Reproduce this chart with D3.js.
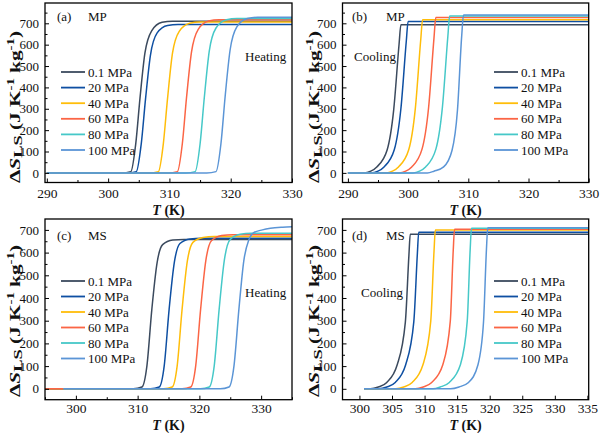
<!DOCTYPE html>
<html lang="en">
<head>
<meta charset="UTF-8">
<title>dS_LS vs T</title>
<script src="https://d3js.org/d3.v7.min.js"></script>
<style>
  body { margin: 0; background: #fff; }
  svg text { font-family: "Liberation Serif", "Times New Roman", serif; fill: #111; }
</style>
</head>
<body>
<script>
// series labels and colours
const pressures = ["0.1 MPa", "20 MPa", "40 MPa", "60 MPa", "80 MPa", "100 MPa"];
const colors = ["#3b4a5e", "#0e4fa2", "#ffbd0a", "#fb6545", "#46c8c8", "#5b95d6"];

// (a) MP heating, [T (K), dS (J/K/kg)]
const mpHeating = [
  [[290,0],[302.2,0],[303.7,6],[304.5,135],[305.2,350],[306.0,560],[307.1,665],[308.8,705],[310.5,710],[330,710]],
  [[290,0],[303.1,0],[304.6,6],[305.4,135],[306.1,345],[306.9,550],[308.0,655],[309.7,690],[311.4,694],[330,694]],
  [[290,0],[306.7,0],[308.2,6],[309.0,135],[309.7,350],[310.5,560],[311.6,662],[313.3,700],[315.0,706],[330,706]],
  [[290,0],[309.8,0],[311.3,6],[312.1,135],[312.8,355],[313.6,565],[314.7,672],[316.4,711],[318.1,717],[330,717]],
  [[290,0],[312.7,0],[314.2,6],[315.0,135],[315.7,355],[316.5,570],[317.6,678],[319.3,717],[321.0,723],[330,723]],
  [[290,0],[316.1,0],[317.6,6],[318.4,135],[319.1,360],[319.9,575],[321.0,683],[322.7,722],[324.4,728],[330,728]]
];

// (b) MP cooling
const mpCooling = [
  [[290,0],[292.6,0],[293.8,8],[294.8,28],[296.5,106],[297.6,294],[298.5,603],[298.8,693],[330,693]],
  [[290,0],[293.8,0],[295.0,8],[296.0,28],[297.7,108],[298.8,300],[299.7,617],[300.0,709],[330,709]],
  [[290,0],[296.3,0],[297.4,8],[298.4,28],[300.1,108],[301.2,302],[302.1,624],[302.4,717],[330,717]],
  [[290,0],[298.5,0],[299.6,8],[300.6,28],[302.3,110],[303.4,305],[304.3,632],[304.6,727],[330,727]],
  [[290,0],[300.8,0],[301.9,8],[302.9,28],[304.6,110],[305.7,308],[306.6,638],[306.9,734],[330,734]],
  [[290,0],[303.2,0],[304.3,8],[305.9,28],[307.3,106],[308.2,294],[308.9,640],[309.2,739],[330,739]]
];

// (c) MS heating
const msHeating = [
  [[295,0],[309.3,0],[310.7,8],[311.5,100],[312.3,350],[313.15,555],[314.05,635],[315.7,655],[317.5,658],[335,658]],
  [[295,0],[312.1,0],[313.5,8],[314.3,100],[315.1,350],[315.95,558],[316.85,640],[318.5,660],[320.3,663],[335,663]],
  [[295,0],[314.2,0],[315.6,8],[316.4,100],[317.2,350],[318.05,562],[318.95,645],[320.6,667],[322.4,671],[335,671]],
  [[295,0],[317.2,0],[318.6,8],[319.4,100],[320.2,350],[321.05,566],[321.95,652],[323.6,675],[325.4,679],[335,679]],
  [[298,0],[320.2,0],[321.6,8],[322.4,100],[323.2,350],[324.05,568],[324.95,657],[326.6,681],[328.4,685],[335,685]],
  [[298,0],[323.4,0],[324.8,8],[325.6,100],[326.4,350],[327.2,565],[328.0,655],[328.8,688],[330.2,700],[331.5,707],[333.5,712],[335,714]]
];

// (d) MS cooling
const msCooling = [
  [[300.7,0],[301.7,0],[302.9,8],[304.2,28],[305.8,106],[307.05,294],[307.6,590],[307.8,681],[335.2,681]],
  [[300.7,0],[303.0,0],[304.2,8],[305.5,28],[307.1,106],[308.35,296],[308.9,598],[309.1,690],[335.2,690]],
  [[300.7,0],[305.6,0],[306.8,8],[308.1,28],[309.75,106],[310.95,298],[311.45,605],[311.65,699],[335.2,699]],
  [[300.7,0],[308.6,0],[309.8,8],[311.1,28],[312.8,106],[313.95,298],[314.4,608],[314.6,703],[335.2,703]],
  [[300.7,0],[311.3,0],[312.4,8],[313.8,28],[315.5,106],[316.55,298],[317.0,612],[317.2,707],[335.2,707]],
  [[300.7,0],[314.0,0],[315.3,8],[316.75,28],[318.2,106],[319.05,294],[319.5,614],[319.7,710],[335.2,710]]
];

// tick values
const yTicks = [0, 100, 200, 300, 400, 500, 600, 700];
const yMinor = [50, 150, 250, 350, 450, 550, 650, 750];
const xTicksMP = [290, 300, 310, 320, 330];
const xMinorMP = [295, 305, 315, 325];
const xTicksMSh = [300, 310, 320, 330];
const xMinorMSh = [295, 305, 315, 325, 335];
const xTicksMSc = [300, 305, 310, 315, 320, 325, 330, 335];

const panels = [
  {tag: "(a)", mat: "MP", mode: "Heating", data: mpHeating, xd: [289.7, 330], yd: [-45, 795],
   box: [45, 3, 292, 182.5], xt: xTicksMP, xm: xMinorMP, tagX: 57, matX: 88, tagY: 21,
   modeX: 245, modeY: 61, legX: 61, legY: 72, legDy: 15.6, yLabX: 19.5, yLabY: 107, xLabY: 215, pad: 6},
  {tag: "(b)", mat: "MP", mode: "Cooling", data: mpCooling, xd: [289.1, 330], yd: [-45, 795],
   box: [342.5, 3, 588.7, 182.5], xt: xTicksMP, xm: xMinorMP, tagX: 352, matX: 386, tagY: 21,
   modeX: 354, modeY: 61, legX: 494, legY: 72, legDy: 15.6, yLabX: 319, yLabY: 107, xLabY: 215, pad: 6},
  {tag: "(c)", mat: "MS", mode: "Heating", data: msHeating, xd: [295, 335], yd: [-48, 748],
   box: [45, 219, 292, 399.7], xt: xTicksMSh, xm: xMinorMSh, tagX: 57, matX: 88, tagY: 240,
   modeX: 245, modeY: 297, legX: 61, legY: 281, legDy: 15.5, yLabX: 19.5, yLabY: 321, xLabY: 429.5, pad: 4},
  {tag: "(d)", mat: "MS", mode: "Cooling", data: msCooling, xd: [297.4, 335.2], yd: [-48, 748],
   box: [342.5, 219, 588.7, 399.7], xt: xTicksMSc, xm: [], tagX: 352, matX: 386, tagY: 240,
   modeX: 361, modeY: 297, legX: 494, legY: 281, legDy: 15.5, yLabX: 319, yLabY: 321, xLabY: 429.5, pad: 4}
];

const svg = d3.select("body").append("svg")
  .attr("width", 600).attr("height", 433);

panels.forEach((p, k) => {
  const [x0, y0, x1, y1] = p.box;
  const x = d3.scaleLinear().domain(p.xd).range([x0, x1]);
  const y = d3.scaleLinear().domain(p.yd).range([y1, y0]);
  const g = svg.append("g");

  g.append("clipPath").attr("id", "clip" + k)
    .append("rect").attr("x", x0).attr("y", y0).attr("width", x1 - x0).attr("height", y1 - y0);

  const line = d3.line().x(d => x(d[0])).y(d => y(d[1])).curve(d3.curveMonotoneX);
  g.append("g").attr("clip-path", "url(#clip" + k + ")")
    .selectAll("path").data(p.data).enter().append("path")
    .attr("d", line)
    .attr("fill", "none")
    .attr("stroke", (d, i) => colors[i])
    .attr("stroke-width", 1.5);

  // axes, ticks inward
  const xAxis = d3.axisBottom(x).tickValues(p.xt).tickSize(-4).tickPadding(p.pad).tickFormat(d3.format("d"));
  const ax = g.append("g").attr("transform", "translate(0," + y1 + ")").call(xAxis);
  ax.attr("font-family", null);
  ax.select(".domain").remove();
  ax.selectAll("text").attr("font-size", 13.5);
  g.append("g").attr("transform", "translate(0," + y1 + ")")
    .call(d3.axisBottom(x).tickValues(p.xm).tickSize(-2.5).tickFormat(""))
    .select(".domain").remove();

  const yAxis = d3.axisLeft(y).tickValues(yTicks).tickSize(-4).tickPadding(6);
  const ay = g.append("g").attr("transform", "translate(" + x0 + ",0)").call(yAxis);
  ay.attr("font-family", null);
  ay.select(".domain").remove();
  ay.selectAll("text").attr("font-size", 13);
  g.append("g").attr("transform", "translate(" + x0 + ",0)")
    .call(d3.axisLeft(y).tickValues(yMinor.filter(v => v < p.yd[1])).tickSize(-2.5).tickFormat(""))
    .select(".domain").remove();

  g.append("rect").attr("x", x0).attr("y", y0).attr("width", x1 - x0).attr("height", y1 - y0)
    .attr("fill", "none").attr("stroke", "#000").attr("stroke-width", 1.3);

  // axis titles
  const xt = g.append("text").attr("x", (x0 + x1) / 2).attr("y", p.xLabY)
    .attr("text-anchor", "middle").attr("font-size", 14).attr("font-weight", "bold");
  xt.append("tspan").attr("font-style", "italic").text("T");
  xt.append("tspan").text(" (K)");

  const yt = g.append("text").attr("transform", "translate(" + p.yLabX + "," + p.yLabY + ") rotate(-90)")
    .attr("text-anchor", "middle").attr("font-size", 15).attr("font-weight", "bold")
    .attr("textLength", 152).attr("lengthAdjust", "spacingAndGlyphs");
  yt.append("tspan").text("\u0394");
  yt.append("tspan").attr("font-style", "italic").text("S");
  yt.append("tspan").attr("dy", 2.5).attr("font-size", 13).text("LS");
  yt.append("tspan").attr("dy", -2.5).text(" (J K");
  yt.append("tspan").attr("dy", -6).attr("font-size", 10.5).text("-1");
  yt.append("tspan").attr("dy", 6).text(" kg");
  yt.append("tspan").attr("dy", -6).attr("font-size", 10.5).text("-1");
  yt.append("tspan").attr("dy", 6).text(")");

  // annotations
  g.append("text").attr("x", p.tagX).attr("y", p.tagY).attr("font-size", 13).text(p.tag);
  g.append("text").attr("x", p.matX).attr("y", p.tagY).attr("font-size", 13).text(p.mat);
  g.append("text").attr("x", p.modeX).attr("y", p.modeY).attr("font-size", 13).text(p.mode);

  // legend
  const leg = g.selectAll(".leg").data(pressures).enter().append("g")
    .attr("transform", (d, i) => "translate(" + p.legX + "," + (p.legY + i * p.legDy) + ")");
  leg.append("line").attr("x1", 0).attr("x2", 24).attr("y1", 0).attr("y2", 0)
    .attr("stroke", (d, i) => colors[i]).attr("stroke-width", 1.8);
  leg.append("text").attr("x", 27).attr("y", 4.5).attr("font-size", 13).text(d => d);
});
</script>
</body>
</html>
